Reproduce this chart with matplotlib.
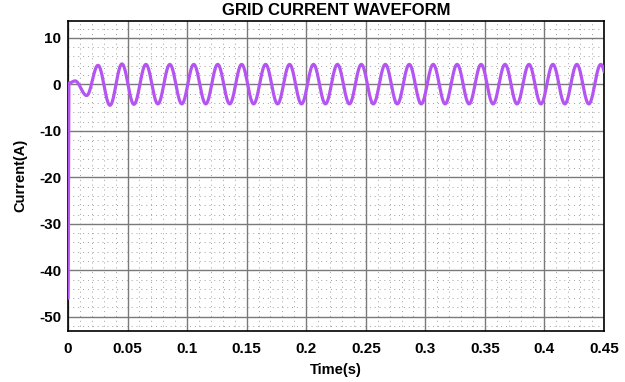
import numpy as np
import matplotlib
matplotlib.use("Agg")
import matplotlib.pyplot as plt
from matplotlib.ticker import AutoMinorLocator

plt.rcParams['font.family'] = ['Liberation Sans', 'DejaVu Sans']
plt.rcParams['axes.unicode_minus'] = False

# Start-up transient: turning points of the current (time in s, current in A)
transient_t = [0.0, 0.0008, 0.0059, 0.0157]
transient_i = [-46.0, 0.3, 0.75, -2.4]

# Steady-state 50 Hz operation: successive crest / trough values (A)
first_extremum_t = 0.0252
half_period = 0.01005
extremum_i = [4.1, -4.5, 4.4, -4.3, 4.3, -4.2, 4.3, -4.2, 4.3, -4.2,
              4.3, -4.2, 4.3, -4.2, 4.3, -4.2, 4.3, -4.2, 4.3, -4.2,
              4.3, -4.2, 4.3, -4.2, 4.3, -4.2, 4.3, -4.2, 4.3, -4.2,
              4.3, -4.2, 4.3, -4.2, 4.3, -4.2, 4.3, -4.2, 4.3, -4.2,
              4.3, -4.2, 4.3, -4.2]

x_ticks = [0, 0.05, 0.1, 0.15, 0.2, 0.25, 0.3, 0.35, 0.4, 0.45]
x_tick_labels = ['0', '0.05', '0.1', '0.15', '0.2', '0.25', '0.3', '0.35', '0.4', '0.45']
y_ticks = [10, 0, -10, -20, -30, -40, -50]

# Turning points of the whole record
turn_t = list(transient_t) + [first_extremum_t + k * half_period for k in range(len(extremum_i))]
turn_i = list(transient_i) + list(extremum_i)

# Join consecutive turning points with half-cosine arcs
t_parts, i_parts = [], []
for (t0, t1, a, b) in zip(turn_t[:-1], turn_t[1:], turn_i[:-1], turn_i[1:]):
    s = np.linspace(0.0, 1.0, 40)
    t_parts.append(t0 + (t1 - t0) * s)
    i_parts.append(a + (b - a) * (1 - np.cos(np.pi * s)) / 2)
t = np.concatenate(t_parts)
current = np.concatenate(i_parts)

fig = plt.figure(figsize=(6.25, 3.82), dpi=100)
ax = fig.add_axes([0.1088, 0.1343, 0.8576, 0.8115])

ax.plot(t, current, color='#b455f2', linewidth=2.3, solid_capstyle='round', zorder=3)

ax.set_xlim(0, 0.45)
ax.set_ylim(-53.0, 13.7)
ax.set_xticks(x_ticks)
ax.set_xticklabels(x_tick_labels)
ax.set_yticks(y_ticks)
ax.xaxis.set_minor_locator(AutoMinorLocator(5))
ax.yaxis.set_minor_locator(AutoMinorLocator(5))

ax.grid(which='major', color='#7a7a7a', linewidth=1.0, linestyle='-', zorder=1)
ax.grid(which='minor', color='#a0a0a0', linewidth=0.7, linestyle=(0, (1, 4)), zorder=1)

ax.tick_params(which='both', length=0)
ax.tick_params(axis='x', pad=8, labelsize=11)
ax.tick_params(axis='y', pad=5, labelsize=11)
for lbl in ax.get_xticklabels() + ax.get_yticklabels():
    lbl.set_fontweight('bold')

for sp in ax.spines.values():
    sp.set_color('black')
    sp.set_linewidth(1.2)

ax.set_title('GRID CURRENT WAVEFORM', fontsize=12, fontweight='bold', pad=4)
ax.set_xlabel('Time(s)', fontsize=10.5, fontweight='bold', labelpad=5)
ax.set_ylabel('Current(A)', fontsize=10.5, fontweight='bold', labelpad=8)

fig.savefig('out.png', dpi=100, facecolor='white')
